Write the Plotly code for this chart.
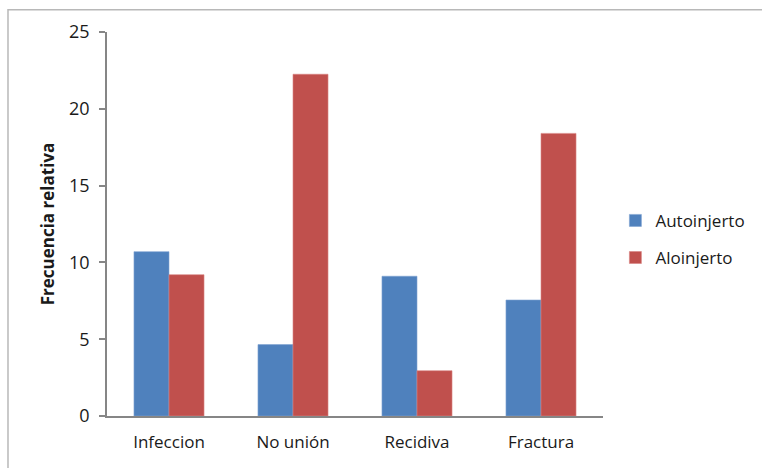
import plotly.graph_objects as go

# Complicaciones por tipo de injerto
categorias = ["Infeccion", "No unión", "Recidiva", "Fractura"]
autoinjerto = [10.7, 4.65, 9.1, 7.55]
aloinjerto = [9.2, 22.25, 2.95, 18.4]
y_ticks = [0, 5, 10, 15, 20, 25]

AZUL = "#4F81BD"
ROJO = "#C0504D"
GRIS = "#868686"
FUENTE = "Open Sans, Lato, sans-serif"

fig = go.Figure()
fig.add_trace(go.Bar(
    x=categorias, y=autoinjerto, name="Autoinjerto",
    marker=dict(color=AZUL, line=dict(color="#7FA3D1", width=0.6)),
    legendgroup="a",
))
fig.add_trace(go.Bar(
    x=categorias, y=aloinjerto, name="Aloinjerto",
    marker=dict(color=ROJO, line=dict(color="#D98583", width=0.6)),
    legendgroup="b",
))

fig.update_layout(
    width=762, height=468, autosize=False,
    margin=dict(l=107, r=159, t=32, b=52, autoexpand=False),
    paper_bgcolor="white", plot_bgcolor="white",
    barmode="group", bargap=0.435, bargroupgap=0,
    font=dict(family=FUENTE, size=17, color="#1a1a1a"),
    legend=dict(
        x=1.025, y=0.46, xanchor="left", yanchor="middle",
        font=dict(size=17, color="#1a1a1a"),
        tracegroupgap=12, itemwidth=30,
    ),
    xaxis=dict(
        showline=True, linecolor=GRIS, linewidth=1.5, automargin=False,
        ticks="", showgrid=False, tickfont=dict(size=17),
        ticklabelstandoff=10,
    ),
    yaxis=dict(
        range=[0, 25], tickvals=y_ticks, showgrid=False, zeroline=False,
        showline=True, linecolor=GRIS, linewidth=1.5, automargin=False,
        ticks="outside", ticklen=6, tickcolor=GRIS, tickwidth=1.5,
        tickfont=dict(size=18), ticklabelstandoff=6,
        title=dict(text="<b>Frecuencia relativa</b>", font=dict(size=17), standoff=10),
    ),
)

# Marco exterior del gráfico
fig.add_shape(
    type="rect", xref="paper", yref="paper",
    x0=-0.1996, x1=1.5, y0=-0.5, y1=1.058,
    line=dict(color="#B8B8B8", width=1.5), fillcolor="rgba(0,0,0,0)",
    layer="below",
)

fig.write_html("out.html")
